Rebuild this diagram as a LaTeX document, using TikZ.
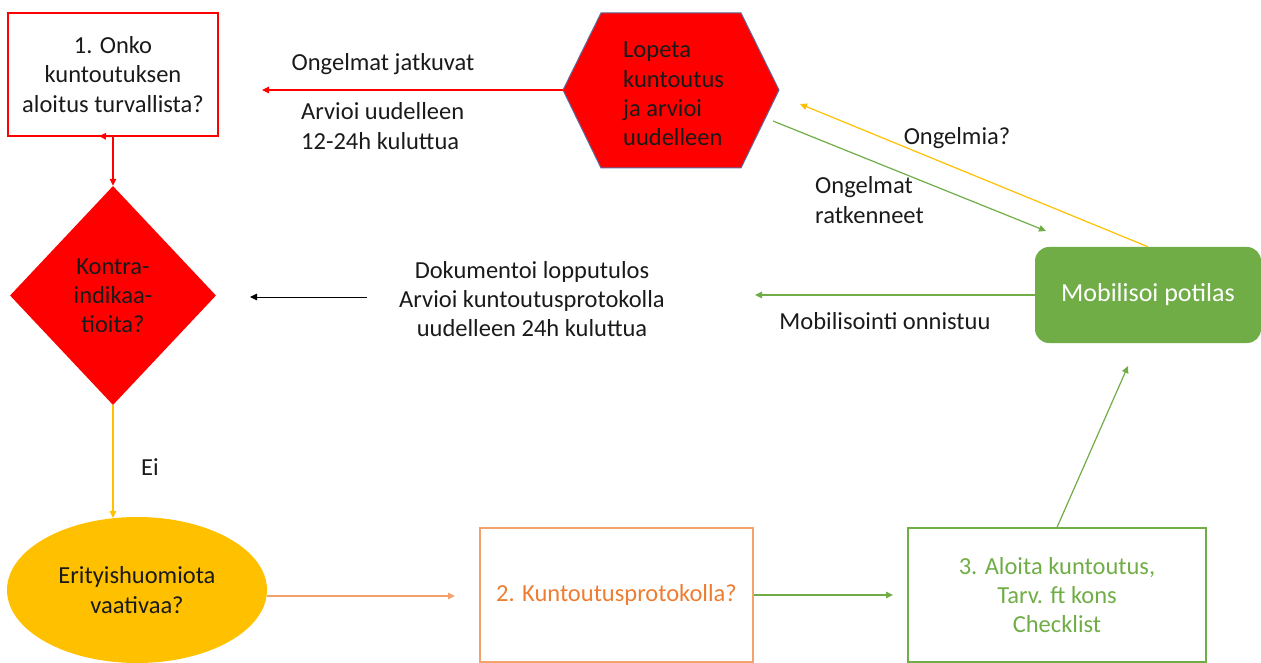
\documentclass[tikz,border=0pt]{standalone}
\usepackage{fontspec}
\setmainfont{Carlito}
\usetikzlibrary{arrows.meta,shapes.geometric}
\definecolor{myred}{HTML}{FF0000}
\definecolor{mygreen}{HTML}{70AD47}
\definecolor{myorange}{HTML}{ED7D31}
\definecolor{myorangeline}{HTML}{F4A26B}
\definecolor{myyellow}{HTML}{FFC000}
\definecolor{txt}{HTML}{1A1A1A}
\definecolor{hexborder}{HTML}{5B6B9B}
\begin{document}
\begin{tikzpicture}[x=1pt,y=-1pt,
  font=\fontsize{24.5}{29.2}\selectfont,
  every node/.style={text=txt},
  conn/.style={line width=1.2pt,-{Triangle[length=7pt,width=6.5pt]}},
  boxnode/.style={line width=1.3pt,inner sep=0pt,align=center}]
\useasboundingbox (0,0) rectangle (1261,663);

% box 1
\node[boxnode,draw=myred,minimum width=210pt,minimum height=123pt] (b1) at (113,74.5) {1. Onko\\kuntoutuksen\\aloitus turvallista?};

% hexagon
\coordinate (hL) at (563,90);
\coordinate (hTL) at (601,13);
\coordinate (hTR) at (741,13);
\coordinate (hR) at (779,90);
\coordinate (hBR) at (741,168);
\coordinate (hBL) at (601,168);
\filldraw[fill=myred,draw=hexborder,line width=1pt] (hL)--(hTL)--(hTR)--(hR)--(hBR)--(hBL)--cycle;
\node[align=left,anchor=west,inner sep=0pt] (hext) at (623,94) {Lopeta\\kuntoutus\\ja arvioi\\uudelleen};

% red arrow to box 1
\coordinate (redend) at (262,90);
\draw[conn,myred] (hL) -- (redend);
\node (lab1) at (383,64) {Ongelmat jatkuvat};
\node[align=left,anchor=west,inner sep=0pt] (lab2) at (301,126) {Arvioi uudelleen\\12-24h kuluttua};

% diamond
\node[diamond,fill=myred,minimum width=206pt,minimum height=219pt,inner sep=0pt,align=center] (dia) at (113,295.5) {Kontra-\\indikaa-\\tioita?};
\draw[conn,myred] (b1.south) -- (dia.north);
\coordinate (b1tip) at (99,136);
\draw[conn,myred] (b1.south) -- (b1tip);

% ellipse
\node[ellipse,fill=myyellow,minimum width=260pt,minimum height=146pt,inner sep=0pt,align=center] (ell) at (137,590) {Erityishuomiota\\vaativaa?};
\coordinate (yelend) at (113,518);
\draw[conn,myyellow] (dia.south) -- (yelend);
\node (ei) at (150,467) {Ei};

% box 2
\node[boxnode,draw=myorangeline,text=myorange,minimum width=273pt,minimum height=134pt] (b2) at (616.5,595) {2. Kuntoutusprotokolla?};
\coordinate (orend) at (455,596);
\draw[conn,myorangeline] (ell.east |- orend) -- (orend);

% box 3
\node[boxnode,draw=mygreen,text=mygreen,minimum width=298pt,minimum height=134pt] (b3) at (1057,595) {3. Aloita kuntoutus,\\Tarv. ft kons\\Checklist};
\coordinate (g1end) at (893,595);
\draw[conn,mygreen] (b2.east) -- (g1end);

% mobilisoi
\node[fill=mygreen,rounded corners=14pt,minimum width=226pt,minimum height=96pt,text=white,font=\fontsize{26}{30}\selectfont] (mob) at (1148,295) {Mobilisoi potilas};
\coordinate (g2end) at (1128,366);
\draw[conn,mygreen] (b3.north) -- (g2end);
\coordinate (g3end) at (755,295);
\draw[conn,mygreen] (mob.west) -- (g3end);
\node (mobon) at (885,321) {Mobilisointi onnistuu};

% black arrow
\coordinate (bstart) at (367,297);
\coordinate (bend) at (250,297);
\draw[conn,black,line width=1pt] (bstart) -- (bend);
\node[align=center,inner sep=0pt] (dok) at (532,299) {Dokumentoi lopputulos\\Arvioi kuntoutusprotokolla\\uudelleen 24h kuluttua};

% diagonal arrows
\coordinate (yend) at (800,104);
\draw[conn,myyellow] (mob.north) -- (yend);
\node (ong) at (957,138) {Ongelmia?};
\coordinate (gstart) at (773,121);
\coordinate (gend) at (1046,231);
\draw[conn,mygreen] (gstart) -- (gend);
\node[align=left,anchor=west,inner sep=0pt] (ratk) at (815,200) {Ongelmat\\ratkenneet};
\end{tikzpicture}
\end{document}
